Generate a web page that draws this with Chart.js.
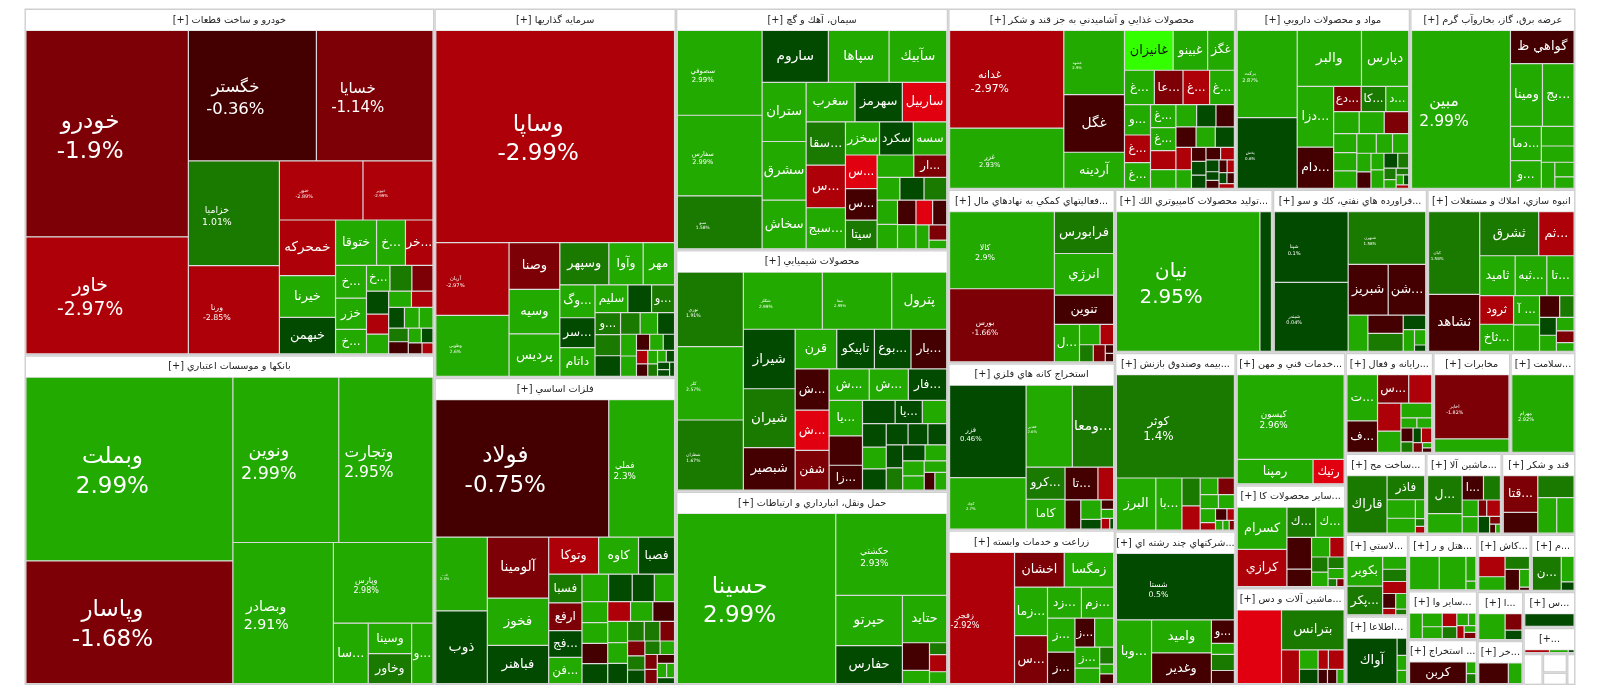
<!DOCTYPE html>
<html>
<head>
<meta charset="utf-8">
<title>Treemap</title>
<style>
  html, body { margin: 0; padding: 0; background: #fff; }
  canvas { display: block; }
</style>
<script src="https://cdn.jsdelivr.net/npm/chart.js@4/dist/chart.umd.min.js"></script>
</head>
<body>
<canvas id="map" width="1600" height="698"></canvas>
<script>
const autoNames = ['خودرو','خاور','خگستر','خسايا','خزاميا','ورنا','خنور','خپوير','خمحركه','خيرنا','خبهمن','ختوقا','...خ','...خر','...خ','خزر','...خ','...خ'];
const autoChanges = [-1.9,-2.97,-0.36,-1.14,1.01,-2.85,-2.89,-2.99,-2.6,2.5,0.5,2.4,2.5,-2.5,2.5,2.3,2.6,2.5,1.5,-1.5,0.5,-2.5,2.5,2.5,-2.5,0.4,2.5,2.5,1.5,-0.5,2.5,0.5,-0.5,-2.2];
const autoCaps = [33050,18750,16470,15000,9400,7920,4870,4080,3080,2310,2020,1830,1290,1230,1000,950,750,600,560,540,500,440,430,365,345,320,300,280,265,235,190,170,150,120];

const bankNames = ['وبملت','وپاسار','ونوين','وتجارت','وبصادر','وپارس','...سا','وسينا','وخاور','...و'];
const bankChanges = [2.99,-1.68,2.99,2.95,2.91,2.98,2.5,2.6,1.5,2.4];
const bankCaps = [38000,25360,17490,15560,14170,8030,2100,1320,1300,1290];

const investNames = ['وساپا','آريان','وطوبي','وصنا','وسيه','پرديس','وسپهر','وآوا','مهر','...وگ','...سر','داتام','سليم','','...و','...و'];
const investChanges = [-2.99,-2.97,2.6,-1.5,2.5,2.5,1.5,2.5,2.4,2.5,0.5,2.3,2.5,0.5,1.5,1.5,1.4,0.4,1.5,2.5,0.5,2.5,2.4,-0.5,2.5,0.5,-2.5,-0.5,2.5,1.5,2.5,0.5,0.3,0.2,0.6];
const investCaps = [49800,5230,4400,2330,2220,2130,2030,1420,1300,1140,1030,1000,900,650,630,550,530,520,415,370,360,340,320,210,215,180,150,140,130,120,100,95,90,80,70];

const metalNames = ['فولاد','فملي','فـ...','ذوب','آلومينا','فخوز','فباهنر','وتوكا','كاوه','فصبا','فسبا','ارفع','...فج','...فن'];
const metalChanges = [-0.75,2.3,2.4,0.5,-1.5,2.5,0.4,-2.5,2.5,0.5,1.5,-1.5,0.5,2.5,2.5,0.5,0.4,2.3,2.5,2.4,-0.5,0.5,-2.5,2.5,-0.5,2.5,2.3,0.5,1.5,1.4,-1.5,-1.5,1.5,0.5,1.5,2.5,-1.5,-1.4,-0.5,2.5,2.4,0.3];
const metalCaps = [23140,8800,3700,3650,3650,2830,2280,1800,1440,1300,930,900,870,850,710,630,590,540,530,520,510,500,440,430,420,410,400,390,320,300,280,250,240,230,200,190,180,170,150,130,110,100];

const cementNames = ['سصوفي','سفارس','سـو','ساروم','سپاها','سآبيك','ستران','سشرق','سخاش','سغرب','سهرمز','ساربيل','...سقا','...س','...سبج','سخزر','سكرد','سسه','...س','...س','سيتا','','...ار'];
const cementChanges = [2.99,2.99,1.58,0.5,2.5,2.5,2.4,2.5,2.3,2.5,0.5,-4,1.5,-2.5,2.5,2.4,0.5,2.5,-4,-0.5,1.5,2.5,-1.5,2.5,0.5,1.5,2.5,2.4,-0.5,2.5,-4,-0.5,2.5,-1.5,2.3];
const cementCaps = [6940,6590,4340,3330,3050,2900,2510,2490,2070,1860,1800,1690,1640,1620,1560,1090,1080,1070,1030,960,880,790,710,500,530,500,480,480,440,430,400,340,300,260,150];

const chemNames = ['نوري','كلر','شطران','شكلر','شفا','پترول','شيراز','شيران','شبصير','قرن','تاپيكو','...بوع','...بار','...ش','...ش','شفن','...ش','...ش','...فار','...يا','','...زا','','...يا'];
const chemChanges = [1.91,2.57,1.67,2.99,2.99,2.5,0.5,1.5,-0.5,2.5,0.5,0.4,-0.5,-0.6,-4,-1.5,2.5,2.4,0.5,2.5,-0.5,-0.4,0.5,0.5,2.5,0.4,2.5,0.5,0.5,0.4,0.5,0.3,1.5,0.4,2.5,2.4,2.5,2.3,-0.5,2.5];
const chemCaps = [4680,4600,4400,4290,3770,2990,2930,2900,2090,1570,1420,1380,1350,1330,1300,1280,1200,1170,1150,1130,930,790,720,600,540,530,490,480,440,400,380,360,350,340,330,310,290,250,180,200];

const transportNames = ['حسينا','حكشتي','حپرتو','حفارس','حتايد'];
const transportChanges = [2.99,2.93,2.5,0.5,2.5,-0.5,2.5,1.5,-2.5,2.4];
const transportCaps = [26340,8900,3270,2470,2050,730,350,200,290,200];

const foodNames = ['غدانه','غزر','غشهد','غگل','آردينه','غانيزان','غبينو','غگز','...غ','...عا','...غ','...غ','...و','...غ','...غ','...غ','...غ'];
const foodChanges = [-2.97,2.93,2.9,-0.5,2.5,3.5,2.5,2.4,2.5,-1.5,-2.5,2.5,2.5,-2.5,2.4,2.5,2.6,-2.5,2.5,2.5,0.5,-0.5,-0.6,2.4,0.5,-2.5,2.5,-0.5,0.5,0.4,-0.5,-2.5,0.5,0.4,-0.5,-0.4,-2.5,0.3,-0.5,-2.5];
const foodCaps = [10870,6700,3800,3400,2130,1890,1340,1040,1000,960,890,830,770,700,650,570,570,470,460,450,420,400,400,380,380,340,280,200,195,185,180,170,150,110,100,100,90,85,80,70];

const pharmaNames = ['بركت','پخش','والبر','دپارس','...دزا','...دام','...دع','...كا','...د'];
const pharmaChanges = [2.87,0.6,2.5,2.5,2.4,-0.5,-1.5,1.5,2.5,2.5,2.4,-1.5,2.5,2.4,2.3,2.5,2.4,2.6,2.5,-0.5,2.5,2.5,0.5,1.5,1.5,2.5,1.4,2.3,0.5,-2.5];
const pharmaCaps = [4950,4000,3400,2500,2090,1420,660,590,550,530,520,510,415,400,380,360,300,300,250,220,205,225,195,155,130,100,80,70,50,40];

const powerNames = ['مبين','گواهي ظ','ومينا','...بج','...دما','...و'];
const powerChanges = [2.99,-0.5,2.5,2.5,2.4,2.5,2.5,2.4,2.5,2.3,2.5];
const powerCaps = [15540,2100,2000,1980,1050,850,640,530,350,280,220];

const financeNames = ['كالا','بورس','فرابورس','انرژي','تنوين','...ل'];
const financeChanges = [2.9,-1.66,1.5,2.5,-0.5,2.5,2.4,-2.5,1.5,-1.5,-0.5,-0.4];
const financeCaps = [7880,7470,2420,2410,1680,920,410,270,230,200,70,70];

const miningNames = ['فزر','كچاد','فغدير','...ومعا','...كرو','كاما','...تا'];
const miningChanges = [0.46,2.7,2.6,1.5,1.5,2.5,-0.5,-2.5,-0.6,2.5,0.5,-0.5,2.4,-2.5,0.4];
const miningCaps = [6900,3840,3700,3300,1220,1130,1050,500,450,390,190,115,110,90,40];

const farmNames = ['زفجر','اخشان','زمگسا','...زما','...س','...زد','...زم','...ز','...ز','...ز','','...ز'];
const farmChanges = [-2.92,-1.5,2.5,2.5,-1.5,2.4,2.5,2.5,-0.5,-0.6,2.5,2.4,2.5,1.5,2.3,-0.5];
const farmCaps = [8200,1660,1650,1540,1520,1010,960,900,830,550,530,500,370,230,130,130];

const techNames = ['نيان'];
const techChanges = [2.95,0.5];
const techCaps = [19880,1600];

const oilNames = ['شپنا','شبندر','شبهرن','شبريز','...شن'];
const oilChanges = [0.1,0.04,1.58,-0.5,-0.6,2.5,-0.5,1.5,0.5,2.5,2.4,0.3];
const oilCaps = [5110,4970,4000,1980,1860,700,630,620,320,240,170,70];

const buildNames = ['كيان','ثشاهد','ثشرق','...ثم','ثاميد','...ثبه','...تا','ثرود','...ثاخ','... آ'];
const buildChanges = [1.58,-0.5,1.5,-2.5,2.5,2.4,2.5,-2.5,2.5,2.4,2.5,-0.5,1.5,0.5,2.5,2.4,-1.5,2.3];
const buildCaps = [4060,2800,2500,1500,1350,1210,1040,930,880,730,660,420,300,290,260,230,200,150];

const insureNames = ['كوثر','البرز','...با'];
const insureChanges = [1.4,2.5,2.4,1.5,-2.5,2.5,-1.5,2.4,2.5,2.3,-2.5,-0.5,-2.6,2.5,2.4,-1.5];
const insureCaps = [11950,2010,1330,500,430,290,270,250,220,210,110,130,85,70,60,50];

const holdNames = ['شستا','...وبا','واميد','وغدير','...و'];
const holdChanges = [0.5,2.5,2.5,-0.5,-0.6,2.4,1.5,-0.4];
const holdCaps = [7810,2230,1970,1830,540,250,370,300];

const serviceNames = ['كيسون','رمپنا','رتيك'];
const serviceChanges = [2.96,2.5,-4];
const serviceCaps = [8900,1830,750];

const productNames = ['كسرام','كرازي','...ك','...ك'];
const productChanges = [2.5,-2.5,1.5,2.5,-0.5,-0.6,2.4,-2.5,1.5,2.3,1.4,2.5,1.3,-1.5];
const productCaps = [1930,1710,800,790,720,400,330,260,230,220,170,150,65,55];

const machineryNames = ['','بترانس'];
const machineryChanges = [-4,1.5,-2.5,2.5,0.5,-2.6,-2.4,-0.5,-0.6,2.4];
const machineryCaps = [3180,2440,590,350,260,195,300,130,130,100];

const computingNames = ['...ت','...ف','...س'];
const computingChanges = [2.5,-0.5,-1.5,-2.5,-2.6,2.5,2.4,2.5,2.3,-0.5,1.5,0.5,-2.5,-1.5,2.5,-0.6];
const computingCaps = [1400,950,880,650,650,490,450,160,150,165,125,120,150,90,50,40];

const telecomNames = ['اخابر'];
const telecomChanges = [-1.82,2.5];
const telecomCaps = [4780,990];

const healthNames = ['مهرام'];
const healthChanges = [2.92];
const healthCaps = [5000];

const materialNames = ['قاراك','فاذر'];
const materialChanges = [1.5,1.4,2.5,2.4,2.3,1.5,-2.5];
const materialCaps = [2200,870,500,400,170,70,60];

const toolNames = ['...ل','','...ا'];
const toolChanges = [1.5,2.5,-0.5,1.5,2.5,2.4,-1.5,-2.5,0.5,-1.5,-0.5,2.3];
const toolCaps = [1240,630,490,390,250,250,130,210,180,80,50,40];

const sugarNames = ['...قتا'];
const sugarChanges = [-1.5,-0.5,1.5,2.5,2.4];
const sugarCaps = [1140,640,720,600,550];

const plasticNames = ['بكوير','...پكر'];
const plasticChanges = [2.5,1.5,2.4,1.4,-2.5,-0.5,-2.6,2.3,1.3];
const plasticCaps = [990,960,290,275,270,180,80,160,60];

const infoNames = ['آواك'];
const infoChanges = [0.5,0.4,2.5,2.4];
const infoCaps = [2330,170,150,130];

const hotelNames = [];
const hotelChanges = [2.5,2.4,2.3,2.2];
const hotelCaps = [920,830,230,80];

const miscNames = [];
const miscChanges = [2.5,2.4,2.3,-2.5,1.5,2.6,2.2,-2.4,2.1,-1.5];
const miscCaps = [310,260,225,190,165,140,90,90,75,70];

const oreNames = ['كربن'];
const oreChanges = [-0.5,2.5,1.5];
const oreCaps = [1300,120,100];

const glassNames = [];
const glassChanges = [-2.5,2.5,1.5,-0.5,2.4,-0.6];
const glassCaps = [510,340,300,290,170,30];

const mNames = ['...ن'];
const mChanges = [1.5,2.5,0.5];
const mCaps = [900,300,100];

const aNames = [];
const aChanges = [2.5,-1.5,0.5];
const aCaps = [640,260,150];

const kharNames = [];
const kharChanges = [-0.5,2.5];
const kharCaps = [650,300];

const sinNames = [];
const sinChanges = [0.5];
const sinCaps = [1000];

const plusNames = [];
const plusChanges = [-2.5,2.5,0.5];
const plusCaps = [500,380,120];

const sectorNames = [
  'خودرو و ساخت قطعات [+]', 'بانكها و موسسات اعتباري [+]', 'سرمايه گذاريها [+]', 'فلزات اساسي [+]',
  'سيمان، آهك و گچ [+]', 'محصولات شيميايي [+]', 'حمل ونقل، انبارداري و ارتباطات [+]',
  'محصولات غذايي و آشاميدني به جز قند و شكر [+]', 'مواد و محصولات دارويي [+]', 'عرضه برق، گاز، بخاروآب گرم [+]',
  '...فعاليتهاي كمكي به نهادهاي مال [+]', 'استخراج كانه هاي فلزي [+]', 'زراعت و خدمات وابسته [+]',
  '...توليد محصولات كامپيوتري الك [+]', '...فراورده هاي نفتي، كك و سو [+]', 'انبوه سازي، املاك و مستغلات [+]',
  '...بيمه وصندوق بازنش [+]', '...شركتهاي چند رشته اي [+]', '...خدمات فني و مهن [+]', '...ساير محصولات كا [+]',
  '...ماشين آلات و دس [+]', '...رايانه و فعال [+]', 'مخابرات [+]', '...سلامت [+]', '...ساخت مح [+]', '...ماشين آلا [+]',
  'قند و شكر [+]', '...لاستي [+]', '...اطلاعا [+]', '...هتل و ر [+]', '...ساير وا [+]', '... استخراج [+]',
  '...كاش [+]', '...م [+]', '...ا [+]', '...خر [+]', '...س [+]', '...+]', '', '', '', '',
];
const sectorCaps = [
  141310, 134355, 88690, 73750, 65416, 65300, 52360, 51800, 31400, 29780, 28800, 27720, 25640, 25590, 25025, 24050,
  21450, 18440, 14450, 11220, 10570, 8790, 7740, 6530, 6480, 6080, 5920, 5090, 4280, 3900, 3350, 3100,
  3050, 2540, 2250, 2020, 1870, 1350, 600, 450, 300, 260,
];
const sectorStocks = [
  [autoNames, autoChanges, autoCaps], [bankNames, bankChanges, bankCaps], [investNames, investChanges, investCaps],
  [metalNames, metalChanges, metalCaps], [cementNames, cementChanges, cementCaps], [chemNames, chemChanges, chemCaps],
  [transportNames, transportChanges, transportCaps], [foodNames, foodChanges, foodCaps], [pharmaNames, pharmaChanges, pharmaCaps],
  [powerNames, powerChanges, powerCaps], [financeNames, financeChanges, financeCaps], [miningNames, miningChanges, miningCaps],
  [farmNames, farmChanges, farmCaps], [techNames, techChanges, techCaps], [oilNames, oilChanges, oilCaps],
  [buildNames, buildChanges, buildCaps], [insureNames, insureChanges, insureCaps], [holdNames, holdChanges, holdCaps],
  [serviceNames, serviceChanges, serviceCaps], [productNames, productChanges, productCaps], [machineryNames, machineryChanges, machineryCaps],
  [computingNames, computingChanges, computingCaps], [telecomNames, telecomChanges, telecomCaps], [healthNames, healthChanges, healthCaps],
  [materialNames, materialChanges, materialCaps], [toolNames, toolChanges, toolCaps], [sugarNames, sugarChanges, sugarCaps],
  [plasticNames, plasticChanges, plasticCaps], [infoNames, infoChanges, infoCaps], [hotelNames, hotelChanges, hotelCaps],
  [miscNames, miscChanges, miscCaps], [oreNames, oreChanges, oreCaps], [glassNames, glassChanges, glassCaps],
  [mNames, mChanges, mCaps], [aNames, aChanges, aCaps], [kharNames, kharChanges, kharCaps],
  [sinNames, sinChanges, sinCaps], [plusNames, plusChanges, plusCaps],
];

const MAP_W = 1551;
const MAP_H = 676.5;
const SECTOR_GAP = 1.4;
const HEADER_H = 20.5;
const PERCENT_MIN_CAP = 3660;
const NO_SKIP = { top: false, bottom: false, left: false, right: false };

function changeColor(c) {
  if (c >= 3) return '#33ff00';
  if (c >= 2) return '#22aa00';
  if (c >= 1) return '#1a7a00';
  if (c >= 0) return '#024a00';
  if (c >= -1) return '#440000';
  if (c >= -2) return '#7d0006';
  if (c >= -3) return '#ae0008';
  return '#e00010';
}

/* same row-building rule as d3's squarify, without re-sorting */
function squarify(values, box) {
  let { x0, y0, x1, y1 } = box;
  let left = values.reduce((a, b) => a + b, 0);
  const rects = [];
  let i = 0;
  while (i < values.length) {
    const dx = x1 - x0, dy = y1 - y0;
    let sum = values[i], min = sum, max = sum;
    const alpha = Math.max(dy / dx, dx / dy) / left;
    let beta = sum * sum * alpha;
    let best = Math.max(max / beta, beta / min);
    let j = i + 1;
    for (; j < values.length; j++) {
      const v = values[j];
      const s = sum + v, mn = Math.min(min, v), mx = Math.max(max, v);
      beta = s * s * alpha;
      const ratio = Math.max(mx / beta, beta / mn);
      if (ratio > best) break;
      sum = s; min = mn; max = mx; best = ratio;
    }
    const isRow = dx < dy;
    if (isRow) {
      const h = dy * sum / left;
      let x = x0;
      for (let k = i; k < j; k++) {
        const w = dx * values[k] / sum;
        rects[k] = { x0: x, y0, x1: x + w, y1: y0 + h };
        x += w;
      }
      y0 += h;
    } else {
      const w = dx * sum / left;
      let y = y0;
      for (let k = i; k < j; k++) {
        const h = dy * values[k] / sum;
        rects[k] = { x0, y0: y, x1: x0 + w, y1: y + h };
        y += h;
      }
      x0 += w;
    }
    left -= sum;
    i = j;
  }
  return rects;
}

function asCell(r) {
  return { x: r.x0, y: r.y0, w: r.x1 - r.x0, h: r.y1 - r.y0 };
}

const frameCells = [], headerCells = [], stockCells = [];
squarify(sectorCaps, { x0: 0, y0: 0, x1: MAP_W, y1: MAP_H }).forEach((r, s) => {
  frameCells.push(asCell(r));
  const box = { x0: r.x0 + SECTOR_GAP, y0: r.y0 + SECTOR_GAP, x1: r.x1 - SECTOR_GAP, y1: r.y1 - SECTOR_GAP };
  const stocks = sectorStocks[s];
  if (!stocks) {
    headerCells.push({ ...asCell(box), title: '' });
    return;
  }
  const head = { x0: box.x0, y0: box.y0, x1: box.x1, y1: box.y0 + HEADER_H };
  headerCells.push({ ...asCell(head), title: sectorNames[s] });
  const [names, changes, caps] = stocks;
  squarify(caps, { ...box, y0: head.y1 }).forEach((c, i) => {
    stockCells.push({ ...asCell(c), name: names[i] || '', change: changes[i], cap: caps[i] });
  });
});

class TreemapController extends Chart.DatasetController {
  update(mode) {
    const meta = this._cachedMeta;
    this.updateElements(meta.data, 0, meta.data.length, mode);
  }
  updateElements(rects, start, count, mode) {
    const { xScale, yScale } = this._cachedMeta;
    const data = this.getDataset().data;
    for (let i = start; i < start + count; i++) {
      const d = data[i];
      const l = xScale.getPixelForValue(d.x), r = xScale.getPixelForValue(d.x + d.w);
      const t = yScale.getPixelForValue(d.y), b = yScale.getPixelForValue(d.y + d.h);
      this.updateElement(rects[i], i, {
        x: (l + r) / 2, y: t, base: b, width: r - l, height: b - t, horizontal: false,
        borderSkipped: NO_SKIP, inflateAmount: 0,
        options: this.resolveDataElementOptions(i, mode),
      }, mode);
    }
  }
}
TreemapController.id = 'treemap';
TreemapController.defaults = { dataElementType: 'bar', datasetElementType: false };
Chart.register(TreemapController);

const FONT = "'DejaVu Sans'";

const labelPlugin = {
  id: 'cellLabels',
  afterDatasetsDraw(chart) {
    const { ctx, scales: { x, y } } = chart;
    ctx.save();
    ctx.textAlign = 'center';
    ctx.textBaseline = 'middle';
    headerCells.forEach(c => {
      if (!c.title) return;
      ctx.direction = 'rtl';
      ctx.font = `9.7px ${FONT}`;
      ctx.fillStyle = '#222';
      ctx.fillText(c.title, x.getPixelForValue(c.x + c.w / 2), y.getPixelForValue(c.y + c.h / 2));
    });
    stockCells.forEach(c => {
      if (!c.name) return;
      const cx = x.getPixelForValue(c.x + c.w / 2), cy = y.getPixelForValue(c.y + c.h / 2);
      ctx.fillStyle = c.change >= 3 ? '#111' : '#fff';
      if (c.cap >= PERCENT_MIN_CAP) {
        const size = Math.min(23, c.cap / 1000);
        ctx.font = `${size}px ${FONT}`;
        ctx.direction = 'rtl';
        ctx.fillText(c.name, cx - 17, cy + 3 - size * 0.65);
        ctx.direction = 'ltr';
        ctx.fillText(c.change + '%', cx - 17, cy + 3 + size * 0.65);
      } else {
        ctx.font = `${Math.min(14, 10 + Math.sqrt(c.cap) * 0.065)}px ${FONT}`;
        ctx.direction = 'rtl';
        ctx.fillText(c.name, cx, cy);
      }
    });
    ctx.restore();
  },
};

new Chart(document.getElementById('map'), {
  type: 'treemap',
  data: {
    datasets: [
      {
        label: 'stocks', order: 0, parsing: false, data: stockCells,
        backgroundColor: stockCells.map(c => changeColor(c.change)),
        borderColor: '#e8e8e8', borderWidth: 0.6,
      },
      {
        label: 'headers', order: 1, parsing: false, data: headerCells,
        backgroundColor: '#fff', borderWidth: 0,
      },
      {
        label: 'sectors', order: 2, parsing: false, data: frameCells,
        backgroundColor: '#cfcfcf', borderWidth: 0,
      },
    ],
  },
  options: {
    responsive: false,
    animation: false,
    events: [],
    layout: { padding: { left: 24.5, right: 24.5, top: 8.5, bottom: 13 } },
    plugins: { legend: { display: false }, tooltip: { enabled: false } },
    scales: {
      x: { type: 'linear', display: false, min: 0, max: MAP_W },
      y: { type: 'linear', display: false, min: 0, max: MAP_H, reverse: true },
    },
  },
  plugins: [labelPlugin],
});
</script>
</body>
</html>
